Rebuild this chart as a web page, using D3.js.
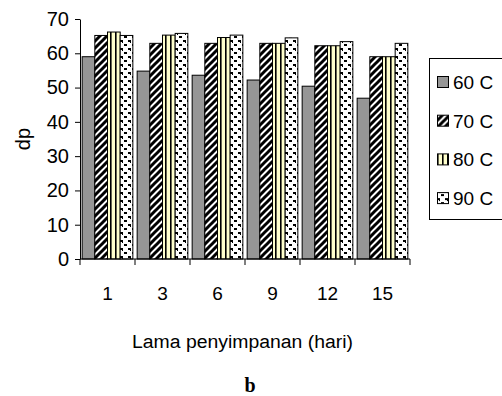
<!DOCTYPE html>
<html>
<head>
<meta charset="utf-8">
<script src="https://cdn.jsdelivr.net/npm/d3@7"></script>
<style>
  body { margin: 0; background: #fff; }
  text { font-family: "Liberation Sans", Arial, sans-serif; }
</style>
</head>
<body>
<div id="chart-container"></div>
<script>
let width = 502;
let height = 396;
let margin = ({top: 19, right: 92, bottom: 137, left: 80});

// data
const days = ["1", "3", "6", "9", "12", "15"];
const seriesNames = ["60 C", "70 C", "80 C", "90 C"];
const temp60 = [59.0, 54.8, 53.6, 52.2, 50.4, 46.9];
const temp70 = [65.2, 62.9, 62.9, 62.9, 62.2, 59.0];
const temp80 = [66.2, 65.3, 64.6, 62.9, 62.2, 59.0];
const temp90 = [65.2, 65.8, 65.3, 64.5, 63.4, 62.9];
const yTicks = [0, 10, 20, 30, 40, 50, 60, 70];

const seriesValues = [temp60, temp70, temp80, temp90];
const fills = ["#969696", "url(#p70)", "url(#p80)", "url(#p90)"];

const svg = d3.select("#chart-container")
    .append("svg")
    .attr("width", width)
    .attr("height", height);

// fill patterns
const defs = svg.append("defs");

const p70 = defs.append("pattern")
    .attr("id", "p70")
    .attr("patternUnits", "userSpaceOnUse")
    .attr("width", 7).attr("height", 7);
p70.append("rect").attr("width", 7).attr("height", 7).attr("fill", "#fff");
p70.append("path")
    .attr("d", "M-1,8 L8,-1 M-4.5,4.5 L4.5,-4.5 M2.5,11.5 L11.5,2.5")
    .attr("stroke", "#000").attr("stroke-width", 3);

const p80 = defs.append("pattern")
    .attr("id", "p80")
    .attr("patternUnits", "userSpaceOnUse")
    .attr("width", 5).attr("height", 5);
p80.append("rect").attr("width", 5).attr("height", 5).attr("fill", "#ffffcc");
p80.append("rect").attr("x", 0).attr("width", 1.6).attr("height", 5).attr("fill", "#000");

// zigzag dashes for 90 C
const p90 = defs.append("pattern")
    .attr("id", "p90")
    .attr("patternUnits", "userSpaceOnUse")
    .attr("width", 8).attr("height", 8);
p90.append("rect").attr("width", 8).attr("height", 8).attr("fill", "#fff");
p90.append("rect").attr("x", 0).attr("y", 0).attr("width", 3).attr("height", 2).attr("fill", "#000");
p90.append("rect").attr("x", 4).attr("y", 4).attr("width", 3).attr("height", 2).attr("fill", "#000");
p90.append("rect").attr("x", 2).attr("y", 2).attr("width", 1).attr("height", 1).attr("fill", "#000");

const x = d3.scaleBand()
    .domain(days)
    .range([margin.left, width - margin.right])
    .paddingInner(0)
    .paddingOuter(0);

const xInner = d3.scaleBand()
    .domain(seriesNames)
    .range([0, x.bandwidth()])
    .paddingInner(0)
    .paddingOuter(0.17);

const y = d3.scaleLinear()
    .domain([0, 70])
    .range([height - margin.bottom, margin.top]);

const chartData = days.map((d, i) => ({
    day: d,
    values: seriesNames.map((s, j) => ({ series: s, idx: j, value: seriesValues[j][i] }))
}));

// bars
svg.append("g")
    .attr("class", "bars")
    .selectAll("g")
    .data(chartData)
    .join("g")
    .attr("transform", d => `translate(${x(d.day)},0)`)
    .selectAll("rect")
    .data(d => d.values)
    .join("rect")
    .attr("x", d => xInner(d.series))
    .attr("y", d => y(d.value))
    .attr("width", xInner.bandwidth())
    .attr("height", d => y(0) - y(d.value))
    .attr("fill", d => fills[d.idx])
    .attr("stroke", "#000")
    .attr("stroke-width", 1);

// y axis
const yAxis = svg.append("g")
    .attr("transform", `translate(${margin.left},0)`)
    .call(d3.axisLeft(y).tickValues(yTicks).tickSize(5).tickSizeOuter(0).tickPadding(6));
yAxis.selectAll("text").style("font-size", "20px").attr("fill", "#000");
yAxis.selectAll("line, path").attr("stroke", "#000");

// x axis: ticks between categories
const xAxis = svg.append("g")
    .attr("transform", `translate(0,${y(0)})`);
xAxis.append("line")
    .attr("x1", margin.left).attr("x2", width - margin.right)
    .attr("stroke", "#000");
const boundaries = days.map(d => x(d)).concat([x(days[days.length - 1]) + x.bandwidth()]);
xAxis.selectAll(".tick-mark")
    .data(boundaries)
    .join("line")
    .attr("class", "tick-mark")
    .attr("x1", d => d).attr("x2", d => d)
    .attr("y1", 0).attr("y2", 6)
    .attr("stroke", "#000");
xAxis.selectAll(".tick-label")
    .data(days)
    .join("text")
    .attr("class", "tick-label")
    .attr("x", d => x(d) + x.bandwidth() / 2)
    .attr("y", 41)
    .attr("text-anchor", "middle")
    .style("font-size", "19px")
    .text(d => d);

// axis titles
svg.append("text")
    .attr("transform", `translate(30,139) rotate(-90)`)
    .attr("text-anchor", "middle")
    .style("font-size", "20px")
    .text("dp");

svg.append("text")
    .attr("x", 132)
    .attr("y", 348)
    .attr("textLength", 221)
    .attr("lengthAdjust", "spacingAndGlyphs")
    .style("font-size", "18px")
    .text("Lama penyimpanan (hari)");

svg.append("text")
    .attr("x", 250)
    .attr("y", 392)
    .attr("text-anchor", "middle")
    .style("font-family", "'Liberation Serif', 'Times New Roman', serif")
    .style("font-weight", "bold")
    .style("font-size", "20px")
    .text("b");

// legend
const legend = svg.append("g").attr("class", "legend");
legend.append("rect")
    .attr("x", 429.5).attr("y", 58.5)
    .attr("width", 90).attr("height", 161)
    .attr("fill", "#fff")
    .attr("stroke", "#000");
const items = legend.selectAll(".item")
    .data(seriesNames)
    .join("g")
    .attr("class", "item")
    .attr("transform", (d, i) => `translate(437,${82 + i * 38.7})`);
items.append("rect")
    .attr("x", 0.5).attr("y", -5.5)
    .attr("width", 11).attr("height", 11)
    .attr("fill", (d, i) => fills[i])
    .attr("stroke", "#000");
items.append("text")
    .attr("x", 16).attr("y", 7)
    .style("font-size", "19px")
    .text(d => d);
</script>
</body>
</html>
